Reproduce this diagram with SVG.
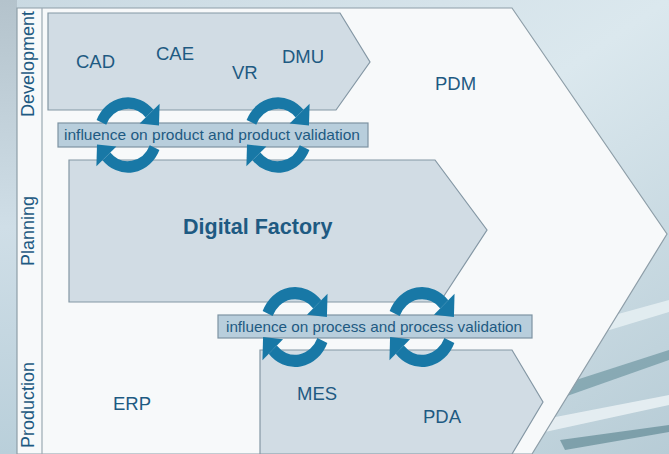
<svg xmlns="http://www.w3.org/2000/svg" width="669" height="454" viewBox="0 0 669 454">
<defs>
<linearGradient id="bg" x1="0" y1="0" x2="1" y2="1">
<stop offset="0" stop-color="#c9d9e2"/>
<stop offset="0.5" stop-color="#dbe8ee"/>
<stop offset="1" stop-color="#b7ccd6"/>
</linearGradient>
<linearGradient id="lbg" x1="0" y1="0" x2="0" y2="1">
<stop offset="0" stop-color="#b4c3cc"/>
<stop offset="0.5" stop-color="#cfdee7"/>
<stop offset="1" stop-color="#b9cfda"/>
</linearGradient>
<g id="half">
<path d="M -26.6 -11.5 A 29 29 0 0 1 21.6 -19.4" fill="none" stroke="#1878a6" stroke-width="10.5"/>
<polygon points="31.6,-28.4 11.6,-10.4 31.0,-8.6" fill="#1878a6"/>
</g>
<g id="cycle">
<use href="#half"/>
<use href="#half" transform="rotate(180)"/>
</g>
</defs>
<style>
.node{fill:#d1dce4;stroke:#8497a4;stroke-width:1.2}
.lbl{fill:#b8cedc;stroke:#7d93a2;stroke-width:1.2}
.t{font-family:"Liberation Sans",Arial,sans-serif;fill:#1e5a82;font-size:18.5px}
.s{font-family:"Liberation Sans",Arial,sans-serif;fill:#1e5a82;font-size:15px}
.v{font-family:"Liberation Sans",Arial,sans-serif;fill:#1e5a82;font-size:18px}
</style>
<!-- background photo approximation -->
<rect x="0" y="0" width="669" height="454" fill="url(#bg)"/>
<rect x="0" y="0" width="17" height="454" fill="url(#lbg)"/>
<polygon points="560,330 669,300 669,312 570,342" fill="#e9f1f4" opacity="0.8"/>
<polygon points="545,390 669,350 669,360 550,402" fill="#4f7f8c" opacity="0.5"/>
<polygon points="540,420 669,395 669,405 545,432" fill="#eef4f6" opacity="0.8"/>
<polygon points="560,440 669,425 669,432 565,450" fill="#3f6f7c" opacity="0.5"/>
<!-- main white arrow -->
<g id="main">
<polygon points="17,8 512,8 667,234 532,454 17,454" fill="#f7f9fa" stroke="#8e9ea8" stroke-width="1.2"/>
<line x1="42" y1="8" x2="42" y2="454" stroke="#9aa9b2" stroke-width="1.2"/>
</g>
<g id="lanes">
<text class="v" transform="translate(34,64) rotate(-90)" text-anchor="middle">Development</text>
<text class="v" transform="translate(34,231) rotate(-90)" text-anchor="middle">Planning</text>
<text class="v" transform="translate(34,405) rotate(-90)" text-anchor="middle">Production</text>
</g>
<g id="pdm"><text class="t" x="435" y="90">PDM</text></g>
<g id="erp"><text class="t" x="113" y="410">ERP</text></g>
<g id="development">
<polygon class="node" points="48,13 340,13 370,62 336,110 48,110"/>
<text class="t" x="76" y="68">CAD</text>
<text class="t" x="156" y="60">CAE</text>
<text class="t" x="232" y="79">VR</text>
<text class="t" x="282" y="63">DMU</text>
</g>
<g id="digital-factory">
<polygon class="node" points="69,160 435,160 487,230 440,302 69,302"/>
<text class="t" x="183" y="234" font-weight="bold" style="font-size:21.5px">Digital Factory</text>
</g>
<g id="production">
<polygon class="node" points="260,350 512,350 543,402 512,454 260,454"/>
<text class="t" x="297" y="400">MES</text>
<text class="t" x="423" y="423">PDA</text>
</g>
<g id="product-validation">
<rect class="lbl" x="58" y="123" width="310" height="24"/>
<text class="s" x="64" y="140" textLength="296" lengthAdjust="spacingAndGlyphs">influence on product and product validation</text>
</g>
<g id="process-validation">
<rect class="lbl" x="218" y="315" width="314" height="23"/>
<text class="s" x="226" y="332" textLength="296" lengthAdjust="spacingAndGlyphs">influence on process and process validation</text>
</g>
<g id="connectors">
<use href="#cycle" transform="translate(128,135) scale(1,1.1)"/>
<use href="#cycle" transform="translate(278,135) scale(1,1.1)"/>
<use href="#cycle" transform="translate(295,327) scale(1.03,1.17)"/>
<use href="#cycle" transform="translate(422,327) scale(1.03,1.17)"/>
</g>
</svg>
